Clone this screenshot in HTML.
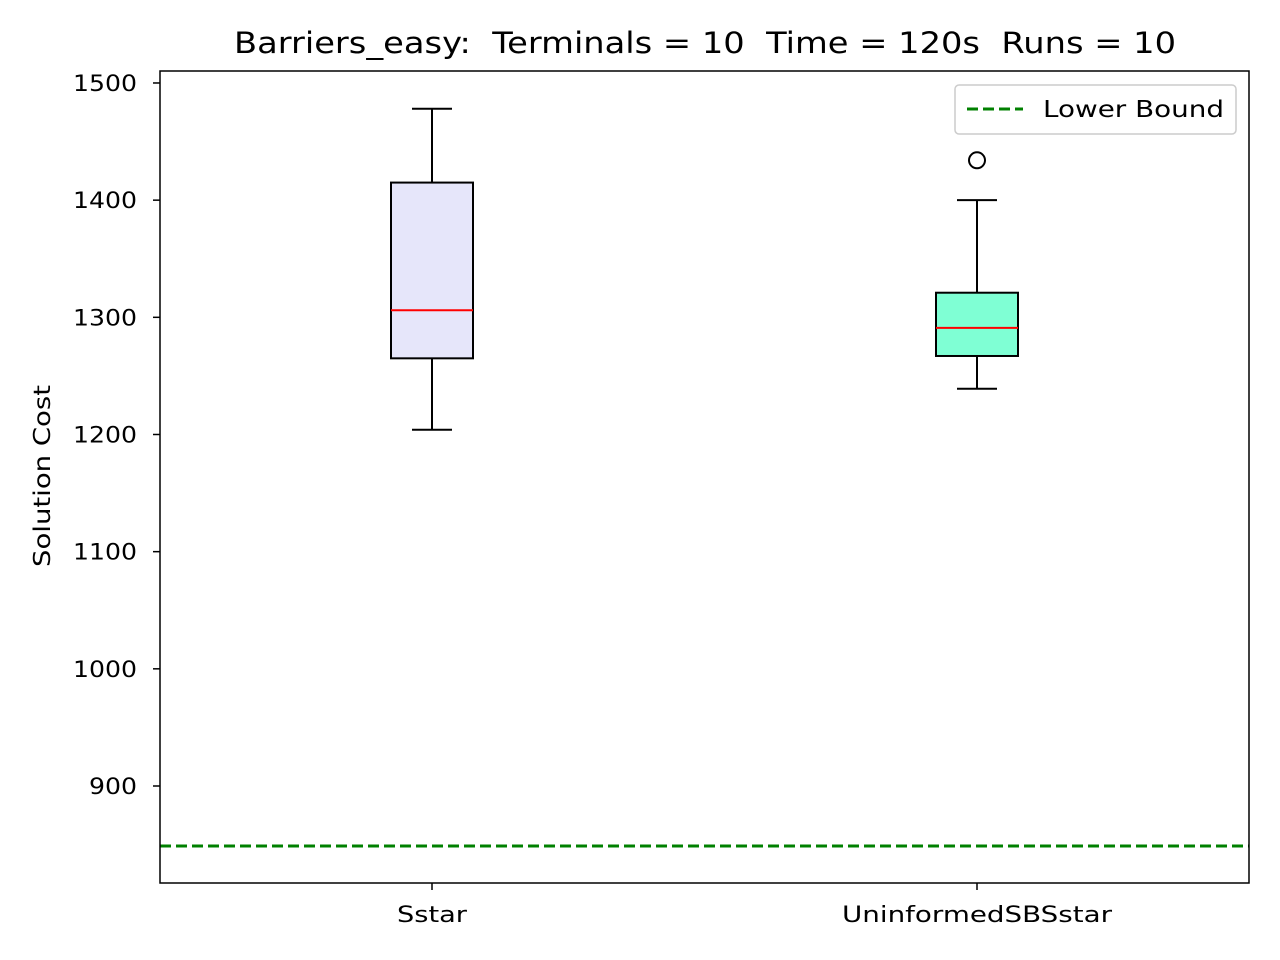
<!DOCTYPE html>
<html><head><meta charset="utf-8"><style>
body{margin:0;background:#fff;}
svg{display:block;font-family:"DejaVu Sans","Liberation Sans",sans-serif;}
text{white-space:pre;}
</style></head><body>
<svg id="chart" width="1280" height="960">
<text x="234" y="53" font-size="29" textLength="942" lengthAdjust="spacingAndGlyphs" xml:space="preserve">Barriers_easy:  Terminals = 10  Time = 120s  Runs = 10</text>
<text transform="translate(50,567) rotate(-90)" font-size="23" textLength="182" lengthAdjust="spacingAndGlyphs">Solution Cost</text>
<g id="plot"></g>
<rect x="160" y="71" width="1089" height="812" fill="none" stroke="#000" stroke-width="1.5"/>
<g>
<rect x="955" y="85" width="281" height="49" rx="4" fill="#fff" stroke="#ccc" stroke-width="1.5"/>
<line x1="967" y1="109" x2="1023" y2="109" stroke="green" stroke-width="3" stroke-dasharray="11,5"/>
<text x="1043" y="117" font-size="23" textLength="181" lengthAdjust="spacingAndGlyphs">Lower Bound</text>
</g>
</svg>
<script>
const categories=["Sstar","UninformedSBSstar"];
const whiskerLow=[1204,1239];
const q1=[1265,1267];
const median=[1306,1291];
const q3=[1415,1321];
const whiskerHigh=[1478,1400];
const outliers=[[],[1434]];
const fills=["#e6e6fa","#7fffd4"];
const yTicks=[900,1000,1100,1200,1300,1400,1500];
const lowerBound=[848.8];
const y=v=>786-(v-900)*1.1717;
const x=i=>432+i*545;
const g=document.getElementById('plot');
const NS="http://www.w3.org/2000/svg";
function mk(t,a){const e=document.createElementNS(NS,t);for(const k in a)e.setAttribute(k,a[k]);g.appendChild(e);return e;}
yTicks.forEach(v=>{
 const l=mk('line',{x1:153,x2:160,y1:y(v),y2:y(v),stroke:'#000','stroke-width':1.5});
 
 
 const s=String(v);
 const w=s.length*16;
 const t=mk('text',{x:137-w,y:y(v)+8,'font-size':22,textLength:w,lengthAdjust:'spacingAndGlyphs'});
 t.textContent=s;
 
 
});
lowerBound.forEach(v=>{
 const l=mk('line',{x1:160,x2:1249,y1:y(v),y2:y(v),stroke:'green','stroke-width':3,'stroke-dasharray':'11,5'});
 
 
});
const labelW=[70,270];
categories.forEach((c,i)=>{
 const cx=x(i);
 const a={stroke:'#000','stroke-width':2};
 let e;
 e=mk('line',Object.assign({x1:cx,x2:cx,y1:y(whiskerLow[i]),y2:y(q1[i])},a));
 
 
 e=mk('line',Object.assign({x1:cx,x2:cx,y1:y(q3[i]),y2:y(whiskerHigh[i])},a));
 
 
 e=mk('line',Object.assign({x1:cx-20,x2:cx+20,y1:y(whiskerLow[i]),y2:y(whiskerLow[i])},a));
 
 
 e=mk('line',Object.assign({x1:cx-20,x2:cx+20,y1:y(whiskerHigh[i]),y2:y(whiskerHigh[i])},a));
 
 
 e=mk('rect',Object.assign({x:cx-41,width:82,y:y(q3[i]),height:y(q1[i])-y(q3[i]),fill:fills[i]},a));
 
 
 e=mk('line',{x1:cx-41,x2:cx+41,y1:y(median[i]),y2:y(median[i]),stroke:'red','stroke-width':2});
 
 
 outliers[i].forEach(v=>{
  const o=mk('circle',{cx:cx,cy:y(v),r:8,fill:'none',stroke:'#000','stroke-width':2});
  
  
 });
 e=mk('line',{x1:cx,x2:cx,y1:883,y2:890,stroke:'#000','stroke-width':1.5});
 
 
 const w=labelW[i];
 const t=mk('text',{x:cx-w/2,y:922,'font-size':22,textLength:w,lengthAdjust:'spacingAndGlyphs'});
 t.textContent=c;
 
 
});
</script>
</body></html>
